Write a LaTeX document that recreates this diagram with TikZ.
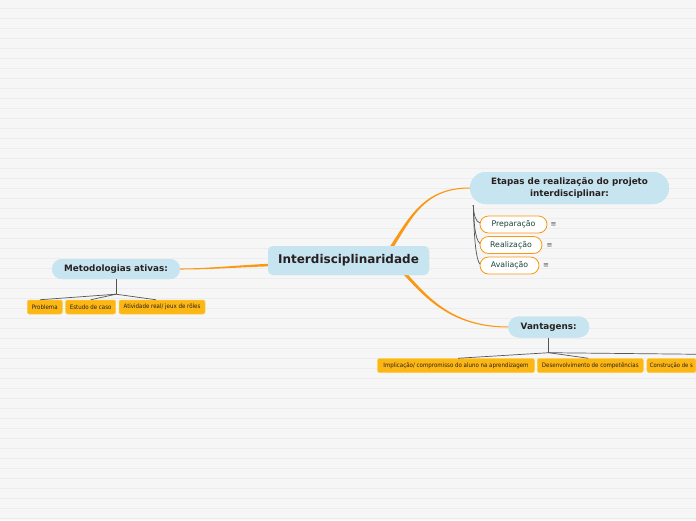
\documentclass[tikz,border=0pt]{standalone}
\usepackage{fontspec}
\setmainfont{DejaVu Sans}
\newfontfamily\leaffont[FakeStretch=0.9]{DejaVu Sans}
\usetikzlibrary{calc}
\definecolor{bg}{RGB}{246,246,246}
\definecolor{bgl}{RGB}{237,237,237}
\definecolor{topicblue}{RGB}{198,229,240}
\definecolor{conn}{RGB}{250,152,22}
\definecolor{leafy}{RGB}{252,183,20}
\definecolor{leafborder}{RGB}{254,204,70}
\definecolor{txt}{RGB}{40,32,32}
\definecolor{subtxt}{RGB}{28,68,56}
\definecolor{grayline}{RGB}{85,85,85}
\begin{document}
\begin{tikzpicture}[x=1pt,y=-1pt,
  topic/.style={fill=topicblue, draw=none, inner sep=0pt, text=txt,
    font=\bfseries\fontsize{8.8}{11.5}\selectfont, align=center},
  subtopic/.style={fill=white, draw=conn, line width=0.8pt, inner sep=0pt,
    text=subtxt, font=\fontsize{7.8}{9}\selectfont},
  leaf/.style={fill=leafy, draw=leafborder, line width=0.5pt, rounded corners=2pt,
    inner sep=0pt, text=txt, font=\leaffont\fontsize{6.1}{7}\selectfont},
  branch/.style={draw=grayline, line width=0.7pt},
  icon/.style={text=grayline, font=\fontsize{7}{8}\selectfont, inner sep=0pt},
  bgline/.style={draw=bgl, line width=0.8pt},
  connfill/.style={fill=conn, draw=none},
]
\useasboundingbox (0,0) rectangle (696,520);
\clip (0,0) rectangle (696,520);
\fill[bg] (0,0) rectangle (696,520);
\foreach \yy in {8,18,...,518} \draw[bgline] (0,\yy) -- (696,\yy);

% main topics (first pass, for anchors)
\path
  node[topic, minimum width=161pt, minimum height=29pt, rounded corners=5pt,
       font=\bfseries\fontsize{12}{14}\selectfont] (ctr) at (348.5,260.5) {Interdisciplinaridade}
  node[topic, minimum width=199pt, minimum height=32pt, rounded corners=16pt] (etapas) at (569.5,188)
       {Etapas de realização do projeto\\interdisciplinar:}
  node[topic, minimum width=128pt, minimum height=20pt, rounded corners=10pt] (metod) at (116,269) {Metodologias ativas:}
  node[topic, minimum width=81pt, minimum height=21pt, rounded corners=10.5pt] (vant) at (548.7,327) {Vantagens:};

% orange tapered connectors
\coordinate (a0) at ($(ctr.north)+(42,3)$);
\coordinate (a3) at (etapas.west);
\coordinate (a1) at ($(a0)+(21,-33)$);
\coordinate (a2) at ($(a3)+(-45,0)$);
\fill[connfill] ($(a0)+(-1.4,-0.9)$) .. controls ($(a1)+(-1.2,-0.7)$) and ($(a2)+(0,-0.6)$) .. ($(a3)+(0,-0.5)$)
  -- ($(a3)+(0,0.5)$) .. controls ($(a2)+(0,0.6)$) and ($(a1)+(1.2,0.7)$) .. ($(a0)+(1.4,0.9)$) -- cycle;

\coordinate (b0) at ($(ctr.south)+(55,-3)$);
\coordinate (b3) at (vant.west);
\coordinate (b1) at ($(b0)+(21.5,23)$);
\coordinate (b2) at ($(b3)+(-58,0)$);
\fill[connfill] ($(b0)+(1.1,-1.1)$) .. controls ($(b1)+(1,-0.9)$) and ($(b2)+(0,-0.6)$) .. ($(b3)+(0,-0.5)$)
  -- ($(b3)+(0,0.5)$) .. controls ($(b2)+(0,0.6)$) and ($(b1)+(-1,0.9)$) .. ($(b0)+(-1.1,1.1)$) -- cycle;

\coordinate (c0) at ($(ctr.west)+(3,4.5)$);
\coordinate (c3) at (metod.east);
\coordinate (c1) at ($(c0)+(-30,1)$);
\coordinate (c2) at ($(c3)+(30,0)$);
\fill[connfill] ($(c0)+(0,-1.3)$) .. controls ($(c1)+(0,-1.1)$) and ($(c2)+(0,-0.6)$) .. ($(c3)+(0,-0.5)$)
  -- ($(c3)+(0,0.5)$) .. controls ($(c2)+(0,0.6)$) and ($(c1)+(0,1.1)$) .. ($(c0)+(0,1.3)$) -- cycle;

% main topics drawn over the connectors
\node[topic, minimum width=161pt, minimum height=29pt, rounded corners=5pt,
      font=\bfseries\fontsize{12}{14}\selectfont] at (ctr) {Interdisciplinaridade};
\node[topic, minimum width=199pt, minimum height=32pt, rounded corners=16pt] at (etapas)
      {Etapas de realização do projeto\\interdisciplinar:};
\node[topic, minimum width=128pt, minimum height=20pt, rounded corners=10pt] at (metod) {Metodologias ativas:};
\node[topic, minimum width=81pt, minimum height=21pt, rounded corners=10.5pt] at (vant) {Vantagens:};

% subtopics of Etapas
\node[subtopic, minimum width=67pt, minimum height=17pt, rounded corners=8.5pt] (prep) at (513.5,224.5) {Preparação};
\node[subtopic, minimum width=62pt, minimum height=17pt, rounded corners=8.5pt] (real) at (511,245) {Realização};
\node[subtopic, minimum width=59pt, minimum height=17pt, rounded corners=8.5pt] (aval) at (509.5,265.5) {Avaliação};
\node[icon] (i1) at (553.5,225) {≡};
\node[icon] (i2) at (549.5,245.5) {≡};
\node[icon] (i3) at (546,265.5) {≡};

\coordinate (ej) at ($(etapas.south west)+(3.5,1)$);
\draw[branch] (ej) .. controls ($(ej)+(0.5,10)$) and ($(prep.west)+(-4,-3)$) .. ($(prep.west)+(0.3,-1.5)$);
\draw[branch] (ej) .. controls ($(ej)+(0.5,14)$) and ($(real.west)+(-5,-6)$) .. ($(real.west)+(0.3,-1.5)$);
\draw[branch] (ej) .. controls ($(ej)+(0.5,18)$) and ($(aval.west)+(-5,-8)$) .. ($(aval.west)+(0.3,-1.5)$);

% leaves of Metodologias
\node[leaf, minimum width=35pt, minimum height=14pt] (l1) at (44.8,307) {Problema};
\node[leaf, minimum width=50pt, minimum height=14pt] (l2) at (90.7,307) {Estudo de caso};
\node[leaf, minimum width=86pt, minimum height=14pt] (l3) at (162,307) {Atividade real/ jeux de rôles};
\coordinate (mj) at ($(metod.south)+(0,15)$);
\draw[branch] (metod.south) -- (mj);
\draw[branch] (mj) -- ($(l1.north)+(-5,0)$);
\draw[branch] (mj) -- (l2.north);
\draw[branch] (mj) -- ($(l3.north)+(-6,0)$);

% leaves of Vantagens
\node[leaf, minimum width=157pt, minimum height=14pt] (v1) at (456,365.5) {Implicação/ compromisso do aluno na aprendizagem};
\node[leaf, minimum width=106pt, minimum height=14pt] (v2) at (590.3,365.5) {Desenvolvimento de competências};
\node[leaf, minimum height=14pt, anchor=west, inner xsep=3pt] (v3) at (646.7,365.5) {\fontsize{5.9}{7}\selectfont Construção de s};
\coordinate (vj) at ($(vant.south)+(0,15)$);
\draw[branch] (vant.south) -- (vj);
\draw[branch] (vj) -- ($(v1.north)+(2,0)$);
\draw[branch] (vj) -- ($(v2.north)+(-2,0)$);
\draw[branch] (vj) -- ($(v3.north east)+(0,-4)$);
\end{tikzpicture}
\end{document}
